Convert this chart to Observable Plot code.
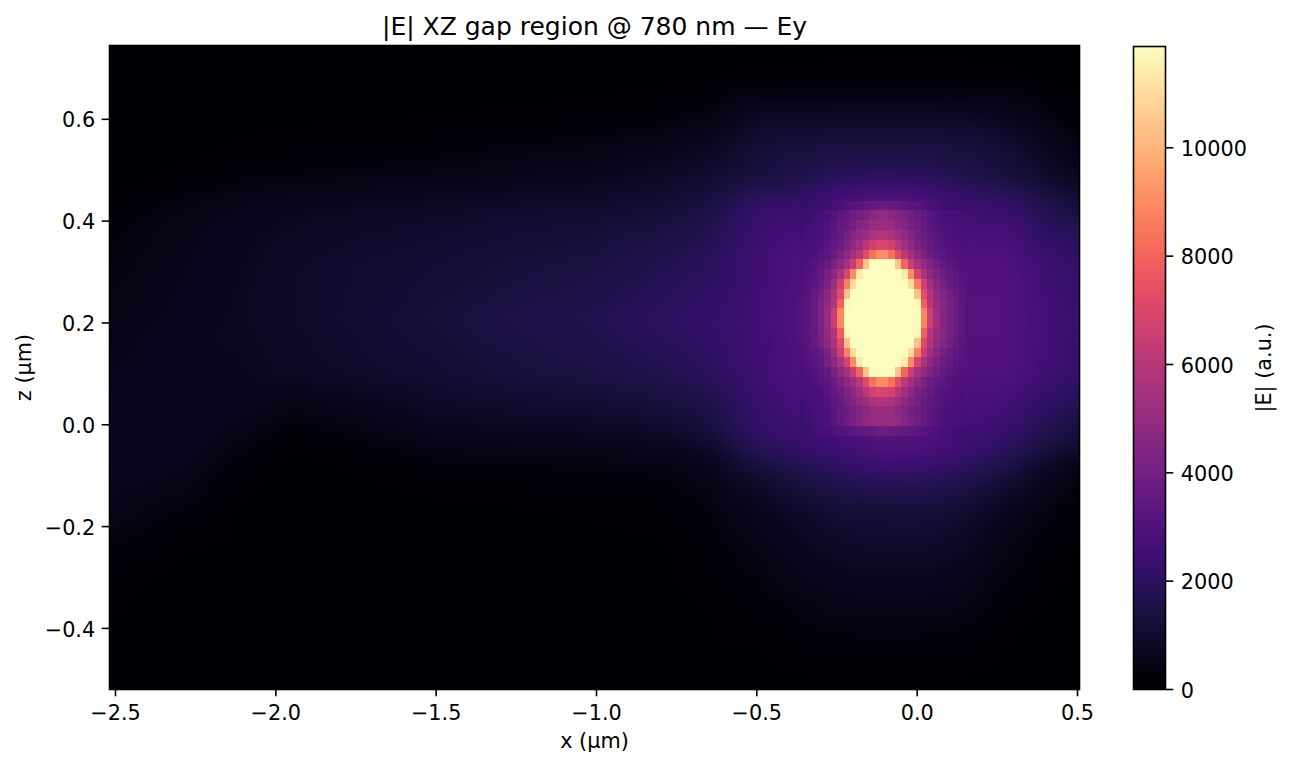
<!DOCTYPE html>
<html>
<head>
<meta charset="utf-8">
<script src="https://cdn.jsdelivr.net/npm/d3@7"></script>
<script src="https://cdn.jsdelivr.net/npm/@observablehq/plot@0.6"></script>
<style>
html,body{margin:0;padding:0;background:#fff}
#wrap{position:relative;width:1290px;height:767px;overflow:hidden}
#wrap svg{position:absolute;left:0;top:0;background:transparent;color:#000;font-family:"DejaVu Sans",sans-serif}
</style>
</head>
<body>
<div id="wrap"></div>
<script>
const titleText = "|E| XZ gap region @ 780 nm — Ey";
const xLabel = "x (µm)";
const zLabel = "z (µm)";
const cbarLabel = "|E| (a.u.)";
const xTicks = [-2.5,-2,-1.5,-1,-0.5,0,0.5];
const zTicks = [-0.4,-0.2,0,0.2,0.4,0.6];
const cbarTicks = [0,2000,4000,6000,8000,10000];
const xDomain = [-2.5187,0.5062];
const zDomain = [-0.52,0.745];
const colorMax = 11870;

// field at sparse positions (a.u.)
const fieldX = [-2.52,-2.3,-2.1,-1.95,-1.75,-1.5,-1.25,-1,-0.8,-0.65,-0.5,-0.37,-0.24,-0.108,0.02,0.15,0.28,0.4,0.51];
const fieldZ = [0.745,0.68,0.62,0.57,0.53,0.5,0.47,0.44,0.4,0.32,0.21,0.1,0.02,-0.02,-0.05,-0.08,-0.12,-0.17,-0.25,-0.35,-0.45,-0.52];
const fieldRows = [
[5,5,5,5,5,5,10,10,15,20,20,25,30,30,30,30,25,20,10],
[5,5,10,15,15,20,30,50,60,80,130,150,160,170,170,160,130,80,40],
[10,20,40,50,60,80,100,130,180,300,700,700,720,720,720,700,550,350,150],
[15,30,90,110,120,160,220,300,420,620,1050,1150,1200,1200,1200,1150,950,600,300],
[20,60,160,200,240,300,400,500,650,850,1250,1400,1500,1500,1500,1400,1200,800,500],
[25,110,230,280,330,400,500,620,800,1000,1250,1500,1700,1800,1750,1500,1200,900,600],
[50,200,350,420,500,550,650,780,950,1150,1500,1700,2200,2400,2300,1850,1600,1150,800],
[120,350,550,650,720,800,880,950,1080,1350,2100,2200,2700,3000,2800,2300,2100,1600,1150],
[250,450,650,750,850,950,1100,1150,1300,1550,2300,2500,3000,3500,3400,2600,2500,1800,1650],
[350,520,720,900,1020,1150,1270,1400,1650,1900,2450,2900,3400,3700,3700,3000,3000,2400,2100],
[450,600,780,920,1070,1280,1500,1680,1980,2200,2500,3000,3400,3800,3800,3100,3100,2600,2300],
[550,680,720,820,950,1120,1300,1450,1650,1900,2450,2900,3400,3700,3700,3000,3000,2500,2200],
[700,720,600,350,540,800,900,1000,1150,1400,2200,2600,3000,3500,3400,2700,2500,1900,1500],
[720,720,460,180,350,600,680,720,850,1150,2100,2400,2700,3100,3000,2500,2200,1600,1300],
[720,680,330,100,220,420,480,520,620,850,1800,2100,2500,2900,2800,2400,1900,1300,900],
[680,600,220,50,120,260,300,340,400,550,1300,1700,2100,2400,2350,2000,1500,900,450],
[620,480,120,30,70,130,170,230,250,450,900,1300,1600,1750,1750,1500,1050,600,280],
[520,300,60,20,35,60,80,110,140,300,620,900,1150,1250,1250,1050,620,380,130],
[300,100,20,10,15,20,30,50,70,200,420,650,850,900,900,780,420,200,60],
[120,25,8,5,8,8,10,15,30,110,230,380,500,520,520,450,220,90,30],
[30,8,5,5,5,5,5,5,10,50,80,150,200,200,200,170,80,30,10],
[5,5,5,5,5,5,5,5,5,10,25,40,50,50,50,40,25,10,5]
];

// the resolved cells around the hot spot (hundreds of a.u.)
const coreUnit = 100;
const coreXEdges = [-0.368,-0.348,-0.328,-0.308,-0.288,-0.268,-0.248,-0.228,-0.208,-0.188,-0.168,-0.148,-0.128,-0.108,-0.088,-0.068,-0.048,-0.028,-0.008,0.012,0.032,0.052,0.072,0.092,0.112,0.132,0.152];
const coreZEdges = [0.4394,0.42015,0.4009,0.38165,0.3624,0.34315,0.3239,0.30465,0.2854,0.26615,0.2469,0.22765,0.2084,0.18915,0.1699,0.15065,0.1314,0.11215,0.0929,0.07365,0.0544,0.03515,0.0159,-0.00335,-0.0226];
const coreRows = [
[21,22,23,24,25,27,28,30,31,32,34,35,36,37,36,35,34,32,31,30,28,27,25,24,23,22],
[23,24,25,26,28,30,33,36,38,41,43,46,49,49,47,44,42,39,37,34,32,30,28,27,26,25],
[24,25,26,27,29,32,35,37,40,44,47,50,51,51,50,47,44,41,38,36,33,31,29,28,27,26],
[25,26,27,28,30,33,36,40,44,48,52,56,58,58,56,52,48,44,40,37,34,32,30,29,28,27],
[26,27,28,29,32,35,38,43,47,53,60,67,70,70,67,60,53,47,43,39,36,33,31,30,29,28],
[27,28,29,31,33,37,42,47,53,61,72,83,90,90,83,72,61,53,47,42,38,35,33,31,30,29],
[28,29,31,33,36,42,48,55,65,80,104,119,119,119,119,104,80,65,55,48,43,39,35,33,31,30],
[29,30,32,35,40,47,56,69,90,114,119,119,119,119,119,119,114,90,69,56,48,43,38,35,33,31],
[30,31,33,37,43,52,66,87,110,119,119,119,119,119,119,119,119,110,87,66,54,46,41,37,34,32],
[30,32,35,40,47,56,72,103,119,119,119,119,119,119,119,119,119,119,103,72,58,49,44,40,36,33],
[31,33,36,42,49,58,79,117,119,119,119,119,119,119,119,119,119,119,117,79,60,51,46,42,37,34],
[31,33,37,43,51,65,89,119,119,119,119,119,119,119,119,119,119,119,119,89,66,53,46,42,37,34],
[31,33,37,43,51,65,89,119,119,119,119,119,119,119,119,119,119,119,119,89,66,53,46,42,37,34],
[31,33,36,42,49,58,79,117,119,119,119,119,119,119,119,119,119,119,117,79,60,51,46,42,37,34],
[30,32,35,40,47,56,72,103,119,119,119,119,119,119,119,119,119,119,103,72,58,49,44,40,36,33],
[30,31,33,37,43,52,66,87,110,119,119,119,119,119,119,119,119,110,87,66,54,46,41,37,34,32],
[29,30,32,35,40,47,56,69,90,114,119,119,119,119,119,119,114,90,69,56,48,43,38,35,33,31],
[28,29,31,33,36,42,48,55,65,80,104,119,119,119,119,104,80,65,55,48,43,39,35,33,31,30],
[27,28,29,31,33,37,42,47,53,61,72,83,90,90,83,72,61,53,47,42,38,35,33,31,30,29],
[26,27,28,29,32,35,38,43,47,53,60,67,70,70,67,60,53,47,43,39,36,33,31,30,29,28],
[25,26,27,28,30,33,36,40,44,48,52,56,58,58,56,52,48,44,40,37,34,32,30,29,28,27],
[24,25,26,27,29,32,35,37,40,44,47,50,51,51,50,47,44,41,38,36,33,31,29,28,27,26],
[24,25,26,27,29,32,35,38,41,45,48,50,51,51,50,48,45,42,39,36,33,31,29,28,27,26],
[23,24,25,26,27,29,31,32,33,34,35,36,38,38,37,36,35,34,33,32,30,29,27,26,25,24]
];

const fieldPoints = fieldZ.flatMap((z,j)=>fieldX.map((x,i)=>({x,z,v:fieldRows[j][i]})));
const coreCells = coreRows.flatMap((row,j)=>row.map((v,i)=>({
  x1:coreXEdges[i],x2:coreXEdges[i+1],z1:coreZEdges[j+1],z2:coreZEdges[j],v:v*coreUnit})));

const color = {type:"linear",scheme:"magma",domain:[0,colorMax],clamp:true};
const tickStyle = {tickSize:7.3,strokeWidth:1.6,fontSize:20.8,label:null};
const labelShift = 1.5;

const main = Plot.plot({
  width:1290,height:767,
  marginLeft:109,marginRight:211,marginTop:45,marginBottom:78,
  x:{domain:xDomain},y:{domain:zDomain},color,
  marks:[
    Plot.raster(fieldPoints,{x:"x",y:"z",fill:"v",interpolate:"barycentric",pixelSize:1,blur:7,imageRendering:"auto"}),
    Plot.rect(coreCells,{x1:"x1",x2:"x2",y1:"z1",y2:"z2",fill:"v",inset:0,shapeRendering:"crispEdges"}),
    Plot.frame({stroke:"#000",strokeWidth:1.6}),
    Plot.axisX({...tickStyle,anchor:"bottom",ticks:xTicks,tickFormat:d3.format(".1f"),tickPadding:8}),
    Plot.axisY({...tickStyle,anchor:"left",ticks:zTicks,text:null}),
    Plot.axisY({...tickStyle,anchor:"left",ticks:zTicks,tickSize:0,tickPadding:14.3,dy:labelShift,tickFormat:d3.format(".1f")}),
    Plot.text([titleText],{text:d=>d,frameAnchor:"top",dy:-19,fontSize:25,lineAnchor:"middle",fill:"#000"}),
    Plot.text([xLabel],{text:d=>d,frameAnchor:"bottom",dy:52,fontSize:20.8,lineAnchor:"middle",fill:"#000"}),
    Plot.text([zLabel],{text:d=>d,frameAnchor:"left",dx:-85,rotate:-90,fontSize:20.8,textAnchor:"middle",lineAnchor:"middle",fill:"#000"})
  ]
});

const cbarStep = colorMax/256;
const cbarValues = d3.range(256).map(i=>i*cbarStep);
const cbar = Plot.plot({
  width:1290,height:767,
  marginLeft:1133,marginRight:125,marginTop:46,marginBottom:78,
  x:{domain:[0,1],axis:null},y:{domain:[0,colorMax]},color,
  marks:[
    Plot.rect(cbarValues,{x1:0,x2:1,y1:d=>d,y2:d=>d+cbarStep,fill:d=>d,inset:0,shapeRendering:"crispEdges"}),
    Plot.frame({stroke:"#000",strokeWidth:1.6}),
    Plot.axisY({...tickStyle,anchor:"right",ticks:cbarTicks,text:null}),
    Plot.axisY({...tickStyle,anchor:"right",ticks:cbarTicks,tickSize:0,tickPadding:15.3,dy:labelShift,tickFormat:d3.format("d")}),
    Plot.text([cbarLabel],{text:d=>d,frameAnchor:"right",dx:99,rotate:-90,fontSize:20.8,textAnchor:"middle",lineAnchor:"middle",fill:"#000"})
  ]
});

const wrap = document.getElementById("wrap");
wrap.append(main,cbar);
</script>
</body>
</html>
